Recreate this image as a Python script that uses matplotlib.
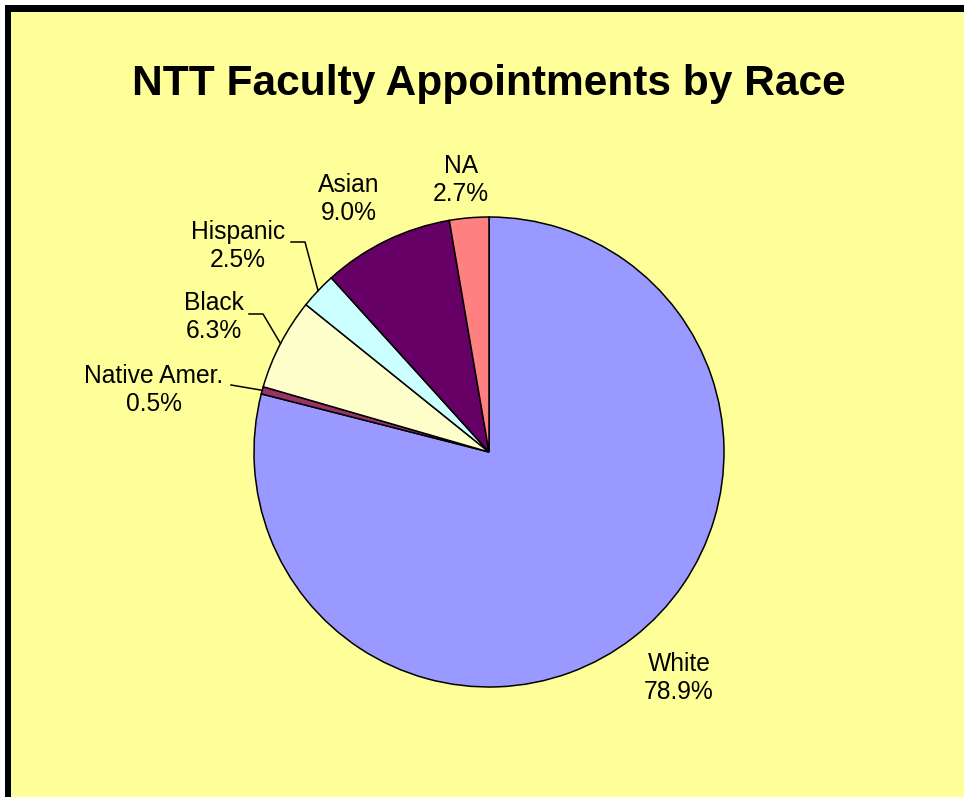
import numpy as np
import matplotlib
matplotlib.use("Agg")
import matplotlib.pyplot as plt
from matplotlib.patches import Rectangle

# Data (clockwise from 12 o'clock)
categories = ["White", "Native Amer.", "Black", "Hispanic", "Asian", "NA"]
shares = [78.9, 0.5, 6.3, 2.5, 9.0, 2.7]
colors = ["#9999FF", "#993366", "#FFFFCC", "#CCFFFF", "#660066", "#FF8080"]

W, H = 964, 797
BG = "#FFFF99"
CENTER = (489, H - 452)
RADIUS = 235

# label block centres (pixel coords, y from top)
LABEL_XY = {
    "White": (679, 678),
    "Native Amer.": (154, 390),
    "Black": (214, 317),
    "Hispanic": (238, 246),
    "Asian": (349, 199),
    "NA": (461, 180),
}
# leader line elbows (pixel coords, y from top); line runs from pie edge
LEADERS = {
    "Hispanic": [(305, 242), (291, 242)],
    "Black": [(263, 314), (249, 314)],
    "Native Amer.": [(231, 385)],
}

fig = plt.figure(figsize=(W / 100, H / 100), dpi=100)
fig.patch.set_facecolor("white")
ax = fig.add_axes([0, 0, 1, 1])

# frame: black border on top/left, yellow chart area
ax.add_patch(Rectangle((5, -10), W + 10, H + 5, facecolor="black", edgecolor="none", zorder=0))
ax.add_patch(Rectangle((11, -10), W + 10, H - 2, facecolor=BG, edgecolor="none", zorder=0))

wedges, _ = ax.pie(shares, colors=colors, startangle=90, counterclock=False,
                   center=CENTER, radius=RADIUS, normalize=True,
                   wedgeprops=dict(edgecolor="black", linewidth=1.1))

font = ["Liberation Sans", "Arial", "DejaVu Sans"]
for cat, val, w in zip(categories, shares, wedges):
    x, y = LABEL_XY[cat]
    ax.text(x, H - y, f"{cat}\n{val:.1f}%", ha="center", va="center",
            fontsize=17.7, family=font, linespacing=1.22, zorder=5)
    if cat in LEADERS:
        mid = np.deg2rad((w.theta1 + w.theta2) / 2)
        pts = [(CENTER[0] + RADIUS * np.cos(mid), CENTER[1] + RADIUS * np.sin(mid))]
        pts += [(px, H - py) for px, py in LEADERS[cat]]
        xs, ys = zip(*pts)
        ax.plot(xs, ys, color="black", lw=1.1, zorder=5)

ax.text(489, H - 84, "NTT Faculty Appointments by Race", ha="center", va="center",
        fontsize=30.6, fontweight="bold", family=font)

ax.set_xlim(0, W)
ax.set_ylim(0, H)
ax.set_aspect("auto")
ax.axis("off")

fig.savefig("out.png", dpi=100, facecolor="white")
